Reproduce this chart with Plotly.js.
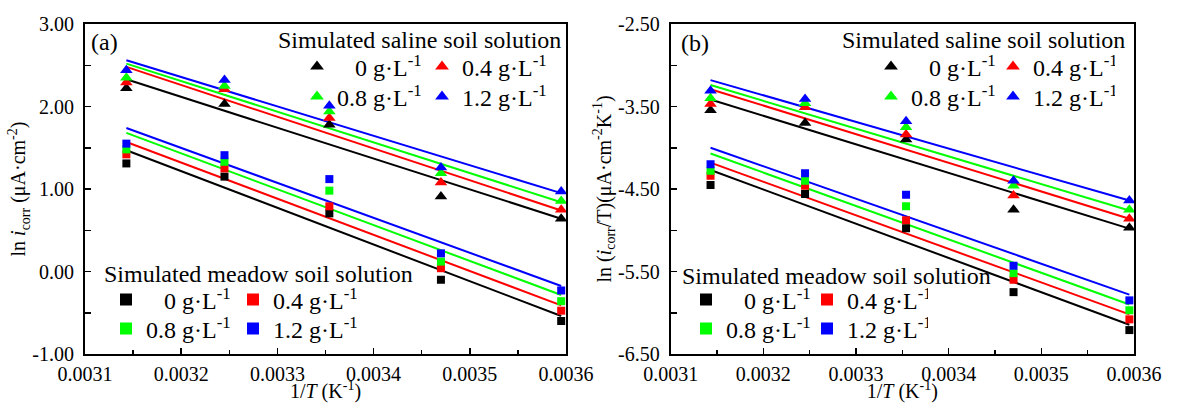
<!DOCTYPE html>
<html>
<head>
<meta charset="utf-8">
<script src="https://cdn.plot.ly/plotly-3.0.1.min.js"></script>
<style>html,body{margin:0;padding:0;background:#fff;}#chart{width:1179px;height:403px;}</style>
</head>
<body>
<div id="chart"></div>
<script>
// ---------- data ----------
const invT = [0.003143, 0.003245, 0.003354, 0.003470, 0.003595];
const fitX = [0.003143, 0.003595];
const concLabels = ['0', '0.4', '0.8', '1.2'];

// panel (a): ln i_corr
const aSaline0  = [2.22, 2.03, 1.78, 0.91, 0.64];
const aSaline04 = [2.29, 2.21, 1.86, 1.08, 0.75];
const aSaline08 = [2.35, 2.25, 1.94, 1.19, 0.855];
const aSaline12 = [2.44, 2.32, 2.01, 1.26, 0.97];
const aMeadow0  = [1.31, 1.15, 0.705, -0.10, -0.60];
const aMeadow04 = [1.42, 1.25, 0.79, 0.04, -0.475];
const aMeadow08 = [1.48, 1.33, 0.98, 0.12, -0.36];
const aMeadow12 = [1.55, 1.41, 1.12, 0.22, -0.23];
// fitted lines (value at first and last 1/T)
const aSalineFit0  = [2.33, 0.64];
const aSalineFit04 = [2.48, 0.74];
const aSalineFit08 = [2.52, 0.84];
const aSalineFit12 = [2.56, 0.95];
const aMeadowFit0  = [1.47, -0.54];
const aMeadowFit04 = [1.57, -0.41];
const aMeadowFit08 = [1.68, -0.285];
const aMeadowFit12 = [1.74, -0.176];

// panel (b): ln (i_corr/T)
const bSaline0  = [-3.545, -3.70, -3.90, -4.75, -4.97];
const bSaline04 = [-3.47, -3.51, -3.84, -4.58, -4.86];
const bSaline08 = [-3.40, -3.46, -3.75, -4.46, -4.75];
const bSaline12 = [-3.31, -3.41, -3.68, -4.40, -4.64];
const bMeadow0  = [-4.45, -4.56, -4.975, -5.75, -6.21];
const bMeadow04 = [-4.34, -4.46, -4.88, -5.60, -6.08];
const bMeadow08 = [-4.28, -4.40, -4.71, -5.52, -5.97];
const bMeadow12 = [-4.20, -4.31, -4.57, -5.43, -5.85];
const bSalineFit0  = [-3.415, -4.98];
const bSalineFit04 = [-3.29, -4.86];
const bSalineFit08 = [-3.24, -4.76];
const bSalineFit12 = [-3.18, -4.64];
const bMeadowFit0  = [-4.27, -6.145];
const bMeadowFit04 = [-4.18, -6.02];
const bMeadowFit08 = [-4.07, -5.90];
const bMeadowFit12 = [-4.00, -5.78];

const xTickVals = [0.0031, 0.0032, 0.0033, 0.0034, 0.0035, 0.0036];
const xTickText = ['0.0031', '0.0032', '0.0033', '0.0034', '0.0035', '0.0036'];
const aYTickVals = [-1, 0, 1, 2, 3];
const aYTickText = ['-1.00', '0.00', '1.00', '2.00', '3.00'];
const bYTickVals = [-6.5, -5.5, -4.5, -3.5, -2.5];
const bYTickText = ['-6.50', '-5.50', '-4.50', '-3.50', '-2.50'];

// ---------- styles ----------
const colors = ['#000000', '#ff0000', '#00ff00', '#0000ff'];
const FONT = '"Liberation Serif", "Times New Roman", serif';
const NB = '\u00a0';
function legendText(c) {
  const pad = c === '0' ? NB + NB + NB : '';
  return pad + c + ' g\u00b7L<sup>-1</sup>';
}

const traces = [];
function addBlock(xa, ya, pts, fits, symbol, size, legRow1, legRow2) {
  for (let i = 0; i < 4; i++) {
    traces.push({
      x: fitX, y: fits[i], xaxis: xa, yaxis: ya, mode: 'lines',
      line: {color: colors[i], width: 2}, showlegend: false, hoverinfo: 'skip'
    });
  }
  for (let i = 0; i < 4; i++) {
    traces.push({
      x: invT, y: pts[i], xaxis: xa, yaxis: ya, mode: 'markers',
      marker: {symbol: symbol, size: size, color: colors[i]},
      name: legendText(concLabels[i]),
      legend: i < 2 ? legRow1 : legRow2, showlegend: true
    });
  }
}
addBlock('x', 'y', [aSaline0, aSaline04, aSaline08, aSaline12],
  [aSalineFit0, aSalineFit04, aSalineFit08, aSalineFit12], 'triangle-up', 11, 'legend2', 'legend3');
addBlock('x', 'y', [aMeadow0, aMeadow04, aMeadow08, aMeadow12],
  [aMeadowFit0, aMeadowFit04, aMeadowFit08, aMeadowFit12], 'square', 8, 'legend4', 'legend5');
addBlock('x2', 'y2', [bSaline0, bSaline04, bSaline08, bSaline12],
  [bSalineFit0, bSalineFit04, bSalineFit08, bSalineFit12], 'triangle-up', 11, 'legend6', 'legend7');
addBlock('x2', 'y2', [bMeadow0, bMeadow04, bMeadow08, bMeadow12],
  [bMeadowFit0, bMeadowFit04, bMeadowFit08, bMeadowFit12], 'square', 8, 'legend8', 'legend9');

function leg(x, y, ew) {
  return {x: x, y: y, xanchor: 'left', yanchor: 'middle', orientation: 'h',
    bgcolor: 'rgba(0,0,0,0)', borderwidth: 0, entrywidth: ew, entrywidthmode: 'pixels',
    itemsizing: 'constant', font: {family: FONT, size: 24, color: '#000'}};
}

function xAxis(domain, anchor) {
  return {domain: domain, anchor: anchor, range: [0.0031, 0.0036],
    tickvals: xTickVals, ticktext: xTickText,
    showline: true, linecolor: '#000', linewidth: 2, mirror: true,
    ticks: 'inside', ticklen: 6, tickwidth: 1.5, tickcolor: '#000',
    minor: {ticks: 'inside', ticklen: 4, tickwidth: 1.5, tickcolor: '#000', dtick: 0.00005, tick0: 0.0031, showgrid: false},
    showgrid: false, zeroline: false, ticklabelstandoff: 1,
    tickfont: {family: FONT, size: 20, color: '#000'},
    title: {text: '1/<i>T</i> (K<sup>-1</sup>)', font: {family: FONT, size: 20, color: '#000'}, standoff: 11},
    fixedrange: true};
}
function yAxis(range, vals, text, title, anchor) {
  return {anchor: anchor, range: range, tickvals: vals, ticktext: text,
    showline: true, linecolor: '#000', linewidth: 2, mirror: true,
    ticks: 'inside', ticklen: 6, tickwidth: 1.5, tickcolor: '#000',
    minor: {ticks: 'inside', ticklen: 6, tickwidth: 1.5, tickcolor: '#000', dtick: 0.5, tick0: range[0], showgrid: false},
    showgrid: false, zeroline: false, ticklabelstandoff: 5,
    tickfont: {family: FONT, size: 20, color: '#000'},
    title: {text: title, font: {family: FONT, size: 20, color: '#000'}, standoff: 1},
    fixedrange: true};
}

const W = 1049, H = 330;
const px = v => (v - 85) / W;
const py = v => (354 - v) / H;

const layout = {
  width: 1179, height: 403,
  margin: {l: 85, r: 45, t: 24, b: 49},
  paper_bgcolor: '#fff', plot_bgcolor: '#fff',
  font: {family: FONT, color: '#000'},
  xaxis: xAxis([0, 481 / W], 'y'),
  yaxis: yAxis([-1, 3], aYTickVals, aYTickText, 'ln <i>i</i><sub>corr</sub> (\u03bcA\u00b7cm<sup>-2</sup>)', 'x'),
  xaxis2: xAxis([(670.7 - 85) / W, 1], 'y2'),
  yaxis2: yAxis([-6.5, -2.5], bYTickVals, bYTickText, 'ln (<i>i</i><sub>corr</sub>/T)(\u03bcA\u00b7cm<sup>-2</sup>K<sup>-1</sup>)', 'x2'),
  legend2: leg(px(297), py(67), 80),
  legend3: leg(px(297), py(97), 80),
  legend4: leg(px(106), py(300), 82),
  legend5: leg(px(106), py(329), 82),
  legend6: leg(px(871), py(67), 77),
  legend7: leg(px(871), py(97), 77),
  legend8: leg(px(686), py(300), 76),
  legend9: leg(px(686), py(329), 76),
  annotations: [
    {text: 'Simulated saline soil solution', xref: 'x domain', yref: 'y domain', x: 0.994, y: py(40), xanchor: 'right', yanchor: 'middle', showarrow: false, font: {family: FONT, size: 24, color: '#000'}},
    {text: 'Simulated meadow soil solution', xref: 'x domain', yref: 'y domain', x: 0.035, y: py(274), xanchor: 'left', yanchor: 'middle', showarrow: false, font: {family: FONT, size: 24, color: '#000'}},
    {text: 'Simulated saline soil solution', xref: 'x2 domain', yref: 'y2 domain', x: 0.985, y: py(40), xanchor: 'right', yanchor: 'middle', showarrow: false, font: {family: FONT, size: 24, color: '#000'}},
    {text: 'Simulated meadow soil solution', xref: 'x2 domain', yref: 'y2 domain', x: 0.020, y: py(276), xanchor: 'left', yanchor: 'middle', showarrow: false, font: {family: FONT, size: 24, color: '#000'}},
    {text: '(a)', xref: 'x domain', yref: 'y domain', x: 0.008, y: py(42), xanchor: 'left', yanchor: 'middle', showarrow: false, font: {family: FONT, size: 24, color: '#000'}},
    {text: '(b)', xref: 'x2 domain', yref: 'y2 domain', x: 0.018, y: py(43), xanchor: 'left', yanchor: 'middle', showarrow: false, font: {family: FONT, size: 24, color: '#000'}}
  ],
  showlegend: true
};

Plotly.newPlot('chart', traces, layout, {staticPlot: true, displayModeBar: false});
</script>
</body>
</html>
